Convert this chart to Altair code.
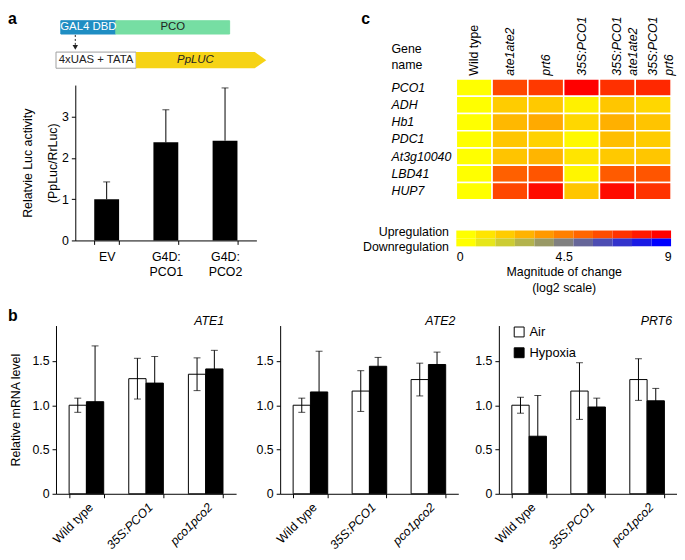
import altair as alt
import pandas as pd

FONT = "Liberation Sans"
FS = 12.5

# ---------------- panel a : luciferase reporter assay ----------------
a_constructs = ["EV", "G4D:\nPCO1", "G4D:\nPCO2"]
a_means = [1.00, 2.38, 2.42]
a_errors = [0.42, 0.79, 1.28]

# construct schematic (arbitrary schematic units)
diag_parts = ["GAL4 DBD", "PCO", "4xUAS + TATA"]
diag_start = [5, 62, 0]
diag_end = [62, 180, 83]
diag_top = [0, 0, 33]
diag_bottom = [14, 14, 50]
diag_fill = ["#1f8ec3", "#76dea3", "#ffffff"]
diag_edge = ["#1f8ec3", "#76dea3", "#a0a0a0"]

luc_label = ["PpLUC"]
luc_x = [83, 206, 218]
luc_top = [33, 33, 41.5]
luc_bottom = [50, 50, 41.5]

link_x = [20]
link_from = [15]
link_to = [28]

# ---------------- panel b : qRT-PCR ----------------
b_lines = ["Wild type", "35S:PCO1", "pco1pco2"]
b_conditions = ["Air", "Hypoxia"]

ate1_air = [1.00, 1.30, 1.35]
ate1_air_err = [0.08, 0.23, 0.185]
ate1_hyp = [1.04, 1.25, 1.41]
ate1_hyp_err = [0.63, 0.30, 0.21]

ate2_air = [1.00, 1.16, 1.29]
ate2_air_err = [0.08, 0.23, 0.185]
ate2_hyp = [1.15, 1.44, 1.46]
ate2_hyp_err = [0.46, 0.10, 0.14]

prt6_air = [1.00, 1.16, 1.29]
prt6_air_err = [0.09, 0.32, 0.235]
prt6_hyp = [0.65, 0.98, 1.05]
prt6_hyp_err = [0.46, 0.10, 0.14]

# ---------------- panel c : heat map ----------------
heat_genes = ["PCO1", "ADH", "Hb1", "PDC1", "At3g10040", "LBD41", "HUP7"]
heat_samples = ["Wild type", "ate1ate2", "prt6", "35S:PCO1",
                "35S:PCO1\nate1ate2", "35S:PCO1\nprt6"]
pco1_lfc = [0, 6.5, 7.0, 9.0, 7.3, 7.6]
adh_lfc = [0, 1.8, 1.9, 0.5, 2.0, 1.4]
hb1_lfc = [0, 2.5, 3.0, 1.4, 2.8, 2.1]
pdc1_lfc = [0, 2.0, 1.6, 0.2, 2.3, 1.8]
at3g10040_lfc = [0, 2.1, 2.6, 0.9, 1.9, 2.0]
lbd41_lfc = [0, 5.6, 6.0, 0.3, 5.8, 6.0]
hup7_lfc = [0, 6.5, 8.6, 2.0, 8.6, 7.2]
heat_rows = [pco1_lfc, adh_lfc, hb1_lfc, pdc1_lfc, at3g10040_lfc, lbd41_lfc, hup7_lfc]

legend_rows = ["Upregulation", "Downregulation"]
legend_signs = [1, -1]
legend_steps = [0, 0.9, 1.8, 2.7, 3.6, 4.5, 5.4, 6.3, 7.2, 8.1, 9.0]

# ---------------- sizes ----------------
DW, DH = 193, 48          # schematic
AW, AH = 183, 157         # panel a bars
HW, HH = 217, 122         # heat map
B1_SHIFT = 19.5           # panel b1 plot starts left of panel a plot
B1_W = 162.5
B_W = 180
B_H = 170

color_scale = alt.Scale(domain=[-9, 0, 9], range=["#0000ff", "#ffff00", "#ff0000"],
                        interpolate="rgb")
wt_normal = {"condition": {"test": "datum.value == 'Wild type'", "value": "normal"},
             "value": "italic"}


def letter(ch, x, y):
    return alt.Chart(pd.DataFrame({"t": [ch]})).mark_text(
        fontSize=16, fontWeight="bold", align="left", baseline="alphabetic",
        color="black", font=FONT
    ).encode(text="t:N", x=alt.value(x), y=alt.value(y))


# ===== panel a schematic =====
df_parts = pd.DataFrame({"part": diag_parts, "start": diag_start, "end": diag_end,
                         "top": diag_top, "bottom": diag_bottom})
dxs = alt.Scale(domain=[20, 218], nice=False, zero=False)
dys = alt.Scale(domain=[0, 50], nice=False, zero=False, reverse=True)

boxes = alt.Chart(df_parts).mark_rect(strokeWidth=1).encode(
    x=alt.X("start:Q", scale=dxs, axis=None), x2="end:Q",
    y=alt.Y("top:Q", scale=dys, axis=None), y2="bottom:Q",
    fill=alt.Fill("part:N", scale=alt.Scale(domain=diag_parts, range=diag_fill), legend=None),
    stroke=alt.Stroke("part:N", scale=alt.Scale(domain=diag_parts, range=diag_edge), legend=None),
)
df_luc = pd.DataFrame({"x": luc_x, "top": luc_top, "bottom": luc_bottom})
luc = alt.Chart(df_luc).mark_area(color="#f6d315", orient="vertical").encode(
    x=alt.X("x:Q", scale=dxs, axis=None),
    y=alt.Y("top:Q", scale=dys, axis=None), y2="bottom:Q",
)
part_text = alt.Chart(df_parts).transform_calculate(
    xm="(datum.start + datum.end) / 2", ym="(datum.top + datum.bottom) / 2"
).mark_text(fontSize=11.5, font=FONT, baseline="middle").encode(
    x=alt.X("xm:Q", scale=dxs, axis=None),
    y=alt.Y("ym:Q", scale=dys, axis=None),
    text="part:N",
)
text_white = part_text.transform_filter("datum.part == 'GAL4 DBD'").mark_text(
    fontSize=11.5, font=FONT, baseline="middle", color="white")
text_dark = part_text.transform_filter("datum.part != 'GAL4 DBD'").mark_text(
    fontSize=11.5, font=FONT, baseline="middle", color="#222222")
df_luc_lab = pd.DataFrame({"label": luc_label, "x0": [luc_x[0]], "x1": [luc_x[1]],
                           "y0": [luc_top[0]], "y1": [luc_bottom[0]]})
luc_text = alt.Chart(df_luc_lab).transform_calculate(
    xm="(datum.x0 + datum.x1) / 2", ym="(datum.y0 + datum.y1) / 2"
).mark_text(fontSize=11.5, font=FONT, fontStyle="italic", baseline="middle", color="#222222").encode(
    x=alt.X("xm:Q", scale=dxs, axis=None), y=alt.Y("ym:Q", scale=dys, axis=None), text="label:N")
df_link = pd.DataFrame({"x": link_x, "y": link_from, "y2": link_to})
link = alt.Chart(df_link).mark_rule(color="#222222", strokeDash=[2, 2], strokeWidth=1).encode(
    x=alt.X("x:Q", scale=dxs, axis=None), y=alt.Y("y:Q", scale=dys, axis=None), y2="y2:Q")
link_head = alt.Chart(df_link).mark_point(shape="triangle-down", filled=True, size=30,
                                          color="#222222", opacity=1).encode(
    x=alt.X("x:Q", scale=dxs, axis=None), y=alt.Y("y2:Q", scale=dys, axis=None))

diag = alt.layer(boxes, luc, text_white, text_dark, luc_text, link, link_head,
                 letter("a", -68, 3)).properties(width=DW, height=DH)

# ===== panel a bars =====
df_a = pd.DataFrame({"construct": a_constructs, "mean": a_means, "err": a_errors})
xa = alt.X("construct:N", sort=a_constructs,
           scale=alt.Scale(paddingInner=0.58, paddingOuter=0.32),
           axis=alt.Axis(title=None, labelAngle=0, labelExpr="split(datum.label, '\\n')",
                         tickBand="extent", tickSize=4, labelPadding=6, labelLineHeight=15))
ya_axis = alt.Axis(values=[0, 1, 2, 3], tickSize=4, labelPadding=3,
                   title=["Relatvie Luc activity", "(PpLuc/RrLuc)"],
                   titleLineHeight=25, titlePadding=2)
ya_scale = alt.Scale(domain=[0, 3.77], nice=False)


def YA(f):
    return alt.Y(f, scale=ya_scale, axis=ya_axis)


base_a = alt.Chart(df_a).transform_calculate(hi="datum.mean + datum.err")
bars_a = base_a.mark_bar(color="black").encode(x=xa, y=YA("mean:Q"))
err_a = base_a.mark_rule(color="black").encode(x=xa, y=YA("mean:Q"), y2="hi:Q")
cap_a = base_a.mark_tick(color="black", thickness=1, size=7).encode(x=xa, y=YA("hi:Q"))
panel_a_bars = alt.layer(bars_a, err_a, cap_a).properties(width=AW, height=AH)

col_a = alt.vconcat(diag, panel_a_bars, spacing=16)

# ===== panel c heat map =====
heat_records = []
for g, vals in zip(heat_genes, heat_rows):
    for s, v in zip(heat_samples, vals):
        heat_records.append({"gene": g, "sample": s, "lfc": v})
df_heat = pd.DataFrame(heat_records)

heat = alt.Chart(df_heat).mark_rect(stroke="white", strokeWidth=1.5).encode(
    x=alt.X("sample:N", sort=heat_samples,
            axis=alt.Axis(orient="top", labelAngle=270, title=None, ticks=False, domain=False,
                          labelExpr="split(datum.label, '\\n')", labelFontStyle=wt_normal,
                          labelPadding=4, labelLineHeight=16)),
    y=alt.Y("gene:N", sort=heat_genes,
            axis=alt.Axis(labelAlign="left", labelPadding=66, labelFontStyle="italic",
                          ticks=False, domain=False, title=["Gene", "name"], titleAngle=0,
                          titleAlign="left", titleX=-66, titleY=-24, titleBaseline="bottom",
                          titleLineHeight=16)),
    color=alt.Color("lfc:Q", scale=color_scale, legend=None),
).properties(width=HW, height=HH)

leg_records = []
n_steps = len(legend_steps)
for r, sgn in zip(legend_rows, legend_signs):
    for i, v in enumerate(legend_steps):
        leg_records.append({"row": r, "start": 9 * i / n_steps, "end": 9 * (i + 1) / n_steps,
                            "cv": sgn * v})
df_leg = pd.DataFrame(leg_records)
heat_legend = alt.Chart(df_leg).mark_rect().encode(
    x=alt.X("start:Q", scale=alt.Scale(domain=[0, 9], nice=False),
            axis=alt.Axis(values=[0, 4.5, 9], labelExpr="datum.value + ''", ticks=False,
                          domain=False, labelPadding=4,
                          title=["Magnitude of change", "(log2 scale)"],
                          titlePadding=3, titleLineHeight=16)),
    x2="end:Q",
    y=alt.Y("row:N", sort=legend_rows,
            axis=alt.Axis(title=None, ticks=False, domain=False, labelPadding=8,
                          labelOffset={"condition": {"test": "datum.value == 'Upregulation'",
                                                     "value": -2}, "value": 5})),
    color=alt.Color("cv:Q", scale=color_scale, legend=None),
).properties(width=HW, height=16)

c_letter = letter("c", -96, 3).properties(width=1, height=1)

col_c = alt.vconcat(c_letter, alt.vconcat(heat, heat_legend, spacing=25), spacing=-11)

top = alt.hconcat(col_a, col_c, spacing=96)


# ===== panel b =====
def b_panel(gene, air, air_err, hyp, hyp_err, first, last, title_dx):
    df = pd.DataFrame({
        "line": b_lines * 2,
        "cond": [b_conditions[0]] * 3 + [b_conditions[1]] * 3,
        "mean": air + hyp,
        "err": air_err + hyp_err,
    })
    if first:
        xrange = [-B1_SHIFT, B1_W]
        width = B1_W
    else:
        xrange = [0, B_W]
        width = B_W
    xb = alt.X("line:N", sort=b_lines,
               scale=alt.Scale(range=xrange, paddingInner=0.42, paddingOuter=0.22),
               axis=alt.Axis(title=None, labelAngle=-45, labelFontStyle=wt_normal,
                             tickBand="extent", tickSize=4, labelPadding=3))
    xo = alt.XOffset("cond:N", sort=b_conditions, scale=alt.Scale(paddingInner=0))
    yaxis = alt.Axis(values=[0, 0.5, 1, 1.5], tickSize=4, labelPadding=3,
                     labelExpr="datum.value == 0 ? '0' : format(datum.value, '.1f')",
                     title="Relative mRNA level" if first else None,
                     titlePadding=10, offset=B1_SHIFT if first else 0)
    ys = alt.Scale(domain=[0, 1.9], nice=False)

    def Y(f):
        return alt.Y(f, scale=ys, axis=yaxis)

    if last:
        leg = alt.Legend(title=None, orient="none", legendX=14, legendY=0,
                         symbolType="square", symbolSize=100, symbolStrokeColor="black",
                         symbolStrokeWidth=1, labelFontSize=13, rowPadding=6,
                         labelColor="black", labelFont=FONT)
    else:
        leg = None
    base = alt.Chart(df).transform_calculate(
        lo="datum.mean - datum.err", hi="datum.mean + datum.err")
    bars = base.mark_bar(stroke="black", strokeWidth=1).encode(
        x=xb, xOffset=xo, y=Y("mean:Q"),
        fill=alt.Fill("cond:N", sort=b_conditions,
                      scale=alt.Scale(domain=b_conditions, range=["white", "black"]),
                      legend=leg))
    err = base.mark_rule(color="black").encode(x=xb, xOffset=xo, y=Y("lo:Q"), y2="hi:Q")
    cap_hi = base.mark_tick(color="black", thickness=1, size=7).encode(
        x=xb, xOffset=xo, y=Y("hi:Q"))
    cap_lo = base.mark_tick(color="black", thickness=1, size=7).encode(
        x=xb, xOffset=xo, y=Y("lo:Q"))
    gene_title = alt.Chart(pd.DataFrame({"g": [gene]})).mark_text(
        align="right", baseline="bottom", fontStyle="italic", fontSize=FS, font=FONT,
        color="black").encode(text="g:N", x=alt.value(width + title_dx), y=alt.value(2))
    layers = [bars, err, cap_hi, cap_lo, gene_title]
    if first:
        layers.append(letter("b", -68, -5))
    return alt.layer(*layers).properties(width=width, height=B_H)


b1 = b_panel("ATE1", ate1_air, ate1_air_err, ate1_hyp, ate1_hyp_err, True, False, -12)
b2 = b_panel("ATE2", ate2_air, ate2_air_err, ate2_hyp, ate2_hyp_err, False, False, -3)
b3 = b_panel("PRT6", prt6_air, prt6_air_err, prt6_hyp, prt6_hyp_err, False, True, -5)

b23 = alt.hconcat(b2, b3, spacing=16).resolve_scale(fill="independent")
bottom = alt.hconcat(b1, b23, spacing=0).resolve_scale(fill="independent")

chart = alt.vconcat(top, bottom, spacing=14).resolve_scale(
    fill="independent", stroke="independent", color="independent"
).properties(padding=0).configure(font=FONT).configure_view(stroke=None).configure_axis(
    labelFont=FONT, titleFont=FONT, labelFontSize=FS, titleFontSize=FS,
    labelColor="black", titleColor="black", domainColor="black", tickColor="black",
    titleFontWeight="normal", grid=False
).configure_legend(labelFont=FONT)

chart.save("out.html", embed_options={"renderer": "svg", "actions": False})
